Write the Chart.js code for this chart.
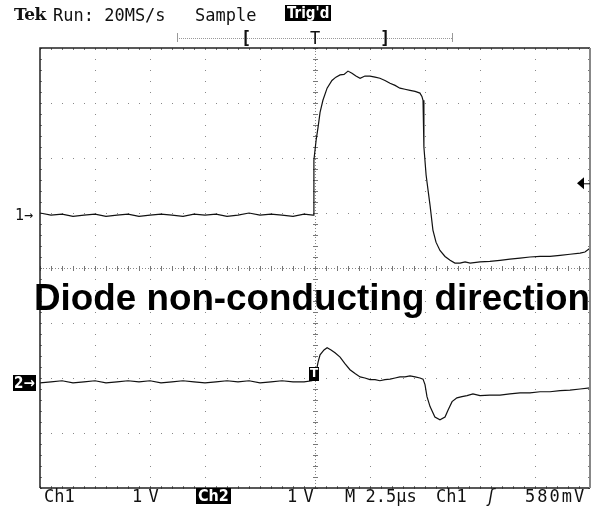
<!DOCTYPE html>
<html><head><meta charset="utf-8">
<script src="https://cdn.jsdelivr.net/npm/chart.js@4"></script>
<style>
html,body{margin:0;padding:0;background:#fff;}
#wrap{position:relative;width:592px;height:509px;overflow:hidden;background:#fff;}
canvas{position:absolute;left:0;top:0;}
.t{position:absolute;font-family:"DejaVu Sans Mono",monospace;font-size:17px;line-height:17px;color:#111;white-space:pre;}
.inv{background:#000;color:#fff;font-family:"DejaVu Sans Condensed","DejaVu Sans",sans-serif;font-weight:bold;padding:0 2px;}
.big{position:absolute;font-family:"Liberation Sans",Arial,sans-serif;font-weight:bold;font-size:36.8px;line-height:36.8px;color:#000;white-space:pre;left:34px;top:280px;}
</style></head><body>
<div id="wrap">
<canvas id="c" width="592" height="509"></canvas>
<div class="t" style="left:14px;top:6px;font-family:'DejaVu Serif',serif;font-weight:bold;font-size:17px;letter-spacing:-0.5px;">Tek</div>
<div class="t" style="left:53px;top:7px;">Run: 20MS/s</div>
<div class="t" style="left:195px;top:7px;">Sample</div>
<div class="t inv" style="left:285px;top:5px;font-size:15px;line-height:16px;">Trig'd</div>
<div class="t" style="left:241px;top:30px;font-weight:bold;">[</div>
<div class="t" style="left:310px;top:30px;">T</div>
<div class="t" style="left:380px;top:30px;font-weight:bold;">]</div>
<div class="t" style="left:15px;top:207px;font-size:15px;">1→</div>
<div class="t inv" style="left:13px;top:375px;font-size:15px;line-height:16px;padding:0 1px;">2→</div>
<div class="t" style="left:44px;top:488px;">Ch1</div>
<div class="t" style="left:132px;top:488px;letter-spacing:-2px;">1 V</div>
<div class="t inv" style="left:196px;top:488px;font-size:16px;line-height:16px;">Ch2</div>
<div class="t" style="left:287px;top:488px;letter-spacing:-2px;">1 V</div>
<div class="t" style="left:345px;top:488px;">M 2.5µs</div>
<div class="t" style="left:436px;top:488px;">Ch1</div>
<div class="t" style="left:486px;top:488px;font-style:italic;">ʃ</div>
<div class="t" style="left:525px;top:488px;letter-spacing:2px;">580mV</div>
<div class="big">Diode non-conducting direction</div>
</div>
<script>
// ---- data (time in µs relative to trigger, volts relative to channel ground) ----
const timeCh1 = [-12.5,-12,-11.5,-11,-10.5,-10,-9.5,-9,-8.5,-8,-7.5,-7,-6.5,-6,-5.5,-5,-4.5,-4,-3.5,-3,-2.5,-2,-1.5,-1,-0.5,-0.09,
  -0.05,0.05,0.14,0.23,0.36,0.55,0.77,0.95,1.14,1.32,1.5,1.68,1.86,2.05,2.27,2.5,2.73,2.95,3.18,3.41,3.64,3.86,4.09,4.32,4.55,4.77,4.86,4.91,
  4.95,5.05,5.14,5.23,5.36,5.5,5.68,5.91,6.14,6.36,6.59,6.82,7.05,7.5,7.95,8.41,8.86,9.32,9.77,10.23,10.68,11.14,11.59,12.05,12.27,12.5];
const voltCh1 = [0.04,0,0.02,-0.02,0,0.02,-0.02,0,0.02,-0.02,0,0.02,0,-0.02,0.02,0,0.02,-0.02,0,0.04,0,0.02,0,-0.02,0.02,0,
  1.0,1.36,1.6,1.87,2.09,2.31,2.45,2.51,2.55,2.56,2.62,2.58,2.53,2.49,2.53,2.53,2.51,2.49,2.45,2.4,2.36,2.31,2.29,2.27,2.25,2.22,2.16,2.09,
  1.24,0.73,0.45,0.18,-0.27,-0.49,-0.64,-0.75,-0.82,-0.87,-0.87,-0.85,-0.87,-0.85,-0.84,-0.82,-0.8,-0.78,-0.76,-0.75,-0.75,-0.73,-0.71,-0.69,-0.67,-0.6];
const timeCh2 = [-12.5,-12,-11.5,-11,-10.5,-10,-9.5,-9,-8.5,-8,-7.5,-7,-6.5,-6,-5.5,-5,-4.5,-4,-3.5,-3,-2.5,-2,-1.5,-1,-0.5,-0.14,
  0.05,0.14,0.23,0.41,0.55,0.73,0.91,1.14,1.36,1.59,1.82,2.05,2.27,2.5,2.73,2.95,3.18,3.41,3.64,3.86,4.09,4.32,4.55,4.77,4.91,
  5.0,5.09,5.23,5.45,5.68,5.91,6.05,6.23,6.45,6.68,6.91,7.18,7.5,7.95,8.41,8.86,9.32,9.77,10.23,10.68,11.14,11.59,12.05,12.5];
const voltCh2 = [-0.02,0,0.02,-0.02,0,0.02,-0.02,0,0.02,0,0.02,-0.02,0,0.02,0,-0.02,0,0.02,0,0.02,-0.02,0,0.02,0,0,0.02,
  0.18,0.36,0.49,0.58,0.62,0.58,0.53,0.45,0.33,0.22,0.15,0.09,0.07,0.04,0.04,0.02,0.04,0.05,0.07,0.09,0.09,0.11,0.09,0.07,0.05,
  -0.05,-0.27,-0.45,-0.64,-0.69,-0.64,-0.51,-0.36,-0.29,-0.27,-0.25,-0.22,-0.25,-0.24,-0.24,-0.22,-0.2,-0.2,-0.18,-0.18,-0.16,-0.15,-0.13,-0.11];
const triggerLevel = 0.58;       // V on Ch1
const ch1GroundDiv = 0.96;       // ground marker position, divisions above centre
const ch2GroundDiv = -2.07;
const voltsPerDiv = 1, usPerDiv = 2.5;

const scopeDecor = {
  id: 'scopeDecor',
  beforeDatasetsDraw(chart) {
    const {ctx, chartArea: a, scales} = chart;
    const cx = Math.round(scales.x.getPixelForValue(0)) + 0.5;
    const cy = Math.round(scales.g.getPixelForValue(0)) + 0.5;
    ctx.save();
    ctx.strokeStyle = '#888'; ctx.lineWidth = 1;
    ctx.setLineDash([1, 2]);
    ctx.beginPath(); ctx.moveTo(a.left, cy); ctx.lineTo(a.right, cy); ctx.moveTo(cx, a.top); ctx.lineTo(cx, a.bottom); ctx.stroke();
    ctx.setLineDash([]);
    ctx.strokeStyle = '#777';
    ctx.beginPath();
    for (let v = scales.x.min; v <= scales.x.max + 1e-6; v += usPerDiv / 5) {
      const p = Math.round(scales.x.getPixelForValue(v)) + 0.5;
      ctx.moveTo(p, cy - 2.5); ctx.lineTo(p, cy + 2.5);
      ctx.moveTo(p, a.top); ctx.lineTo(p, a.top + 2);
      ctx.moveTo(p, a.bottom - 2); ctx.lineTo(p, a.bottom);
    }
    for (let v = scales.g.min; v <= scales.g.max + 1e-6; v += 0.2) {
      const p = Math.round(scales.g.getPixelForValue(v)) + 0.5;
      ctx.moveTo(cx - 2.5, p); ctx.lineTo(cx + 2.5, p);
      ctx.moveTo(a.left, p); ctx.lineTo(a.left + 2, p);
      ctx.moveTo(a.right - 2, p); ctx.lineTo(a.right, p);
    }
    ctx.stroke();
    ctx.restore();
  },
  afterDraw(chart) {
    const {ctx, chartArea: a, scales} = chart;
    ctx.save();
    // frame
    ctx.strokeStyle = '#222'; ctx.lineWidth = 1.5;
    ctx.beginPath();
    ctx.moveTo(a.left, a.bottom); ctx.lineTo(a.left, a.top); ctx.lineTo(a.right, a.top);
    ctx.moveTo(a.left, a.bottom); ctx.lineTo(a.right, a.bottom);
    ctx.stroke();
    ctx.strokeStyle = '#888'; ctx.lineWidth = 2;
    ctx.beginPath(); ctx.moveTo(a.right, a.top); ctx.lineTo(a.right, a.bottom); ctx.stroke();
    // record-length bracket bar in header
    ctx.strokeStyle = '#999'; ctx.lineWidth = 1; ctx.setLineDash([1, 1]);
    ctx.beginPath(); ctx.moveTo(177, 38.5); ctx.lineTo(453, 38.5); ctx.stroke();
    ctx.setLineDash([]);
    ctx.beginPath(); ctx.moveTo(177.5, 33); ctx.lineTo(177.5, 42); ctx.moveTo(452.5, 33); ctx.lineTo(452.5, 42); ctx.stroke();
    // trigger level marker (Ch1)
    const ty = scales.y1.getPixelForValue(triggerLevel);
    ctx.fillStyle = '#000';
    ctx.beginPath(); ctx.moveTo(a.right - 13, ty); ctx.lineTo(a.right - 6, ty - 6); ctx.lineTo(a.right - 6, ty + 6); ctx.closePath(); ctx.fill();
    ctx.strokeStyle = '#000'; ctx.lineWidth = 1;
    ctx.beginPath(); ctx.moveTo(a.right - 6, ty + 0.5); ctx.lineTo(a.right, ty + 0.5); ctx.stroke();
    // trigger point marker on Ch2 trace
    const tx = scales.x.getPixelForValue(0);
    const gy = scales.y2.getPixelForValue(0);
    ctx.fillStyle = '#000';
    ctx.fillRect(Math.round(tx) - 6, Math.round(gy) - 15, 10, 14);
    ctx.fillStyle = '#fff';
    ctx.font = 'bold 12px "DejaVu Sans"';
    ctx.textAlign = 'center'; ctx.textBaseline = 'middle';
    ctx.fillText('T', Math.round(tx) - 1, Math.round(gy) - 8);
    ctx.restore();
  }
};

new Chart(document.getElementById('c'), {
  type: 'line',
  data: {
    datasets: [
      {label: 'Ch1', data: timeCh1.map((t, i) => ({x: t, y: voltCh1[i]})), yAxisID: 'y1',
       borderColor: '#111', borderWidth: 1.2, pointRadius: 0, tension: 0, fill: false},
      {label: 'Ch2', data: timeCh2.map((t, i) => ({x: t, y: voltCh2[i]})), yAxisID: 'y2',
       borderColor: '#111', borderWidth: 1.2, pointRadius: 0, tension: 0, fill: false}
    ]
  },
  options: {
    responsive: false, animation: false, events: [],
    layout: {padding: {left: 40, right: 2, top: 48, bottom: 21}},
    plugins: {legend: {display: false}, tooltip: {enabled: false}, title: {display: false}},
    scales: {
      x: {type: 'linear', min: -5 * usPerDiv, max: 5 * usPerDiv,
          ticks: {display: false, stepSize: usPerDiv},
          grid: {color: '#888', lineWidth: 1, drawTicks: false},
          border: {display: false, dash: [1, 10]},
          afterFit(s) { s.height = 0; }},
      g: {type: 'linear', position: 'left', min: -4, max: 4,
          ticks: {display: false, stepSize: 1},
          grid: {color: '#888', lineWidth: 1, drawTicks: false},
          border: {display: false, dash: [1, 10]},
          afterFit(s) { s.width = 0; }},
      y1: {type: 'linear', display: false, min: (-4 - ch1GroundDiv) * voltsPerDiv, max: (4 - ch1GroundDiv) * voltsPerDiv},
      y2: {type: 'linear', display: false, min: (-4 - ch2GroundDiv) * voltsPerDiv, max: (4 - ch2GroundDiv) * voltsPerDiv}
    }
  },
  plugins: [scopeDecor]
});
</script>
</body></html>
